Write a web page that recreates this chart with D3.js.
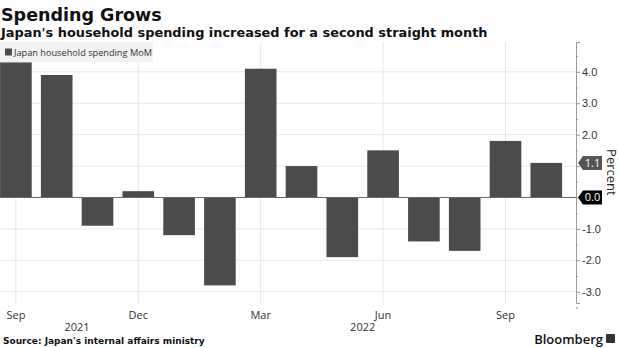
<!DOCTYPE html>
<html>
<head>
<meta charset="utf-8">
<script src="https://cdn.jsdelivr.net/npm/d3@7"></script>
<style>
  body { margin: 0; background: #fff; }
  svg { display: block; font-family: "Open Sans", sans-serif; }
  .grid line { stroke: #e8e8e8; stroke-width: 1; }
  .tick text { fill: #333; font-size: 11px; }
</style>
</head>
<body>
<svg></svg>
<script>
const months = ["2021-09", "2021-10", "2021-11", "2021-12", "2022-01", "2022-02", "2022-03",
  "2022-04", "2022-05", "2022-06", "2022-07", "2022-08", "2022-09", "2022-10"]
const spending = [4.3, 3.9, -0.9, 0.2, -1.2, -2.8, 4.1, 1.0, -1.9, 1.5, -1.4, -1.7, 1.8, 1.1]
const monthTicks = ["2021-09", "2021-12", "2022-03", "2022-06", "2022-09"]
const monthNames = { "09": "Sep", "12": "Dec", "03": "Mar", "06": "Jun" }
const years = [
  { year: "2021", first: "2021-09", last: "2021-12" },
  { year: "2022", first: "2022-01", last: "2022-10" }
]
const yTicks = [-3, -2, -1, 0, 1, 2, 3, 4]
const yMinor = [-3.5, -2.5, -1.5, -0.5, 0.5, 1.5, 2.5, 3.5, 4.5]
const lastValue = spending[spending.length - 1]

const width = 620, height = 348
const svg = d3.select("svg").attr("width", width).attr("height", height)

const x = d3.scaleBand()
  .domain(months)
  .range([-4.5, 566.7])
  .paddingInner(0.225)
  .paddingOuter(0.1125)

const y = d3.scaleLinear()
  .domain([-3.36, 4.95])
  .range([303, 42])

const axisX = 576
const cx = d => x(d) + x.bandwidth() / 2

// titles
svg.append("text")
  .attr("x", 1).attr("y", 21)
  .style("font-family", "DejaVu Sans").style("font-weight", "bold").style("font-size", "17.5px")
  .style("fill", "#111")
  .text("Spending Grows")

svg.append("text")
  .attr("x", 1).attr("y", 37)
  .style("font-family", "DejaVu Sans").style("font-weight", "bold").style("font-size", "12.9px")
  .style("fill", "#111")
  .text("Japan's household spending increased for a second straight month")

// gridlines
const grid = svg.append("g").attr("class", "grid")
grid.selectAll("line.h")
  .data(yTicks.filter(d => d !== 0))
  .enter().append("line")
  .attr("class", "h")
  .attr("x1", 0).attr("x2", axisX)
  .attr("y1", d => y(d)).attr("y2", d => y(d))
grid.selectAll("line.v")
  .data(monthTicks)
  .enter().append("line")
  .attr("class", "v")
  .attr("x1", d => cx(d)).attr("x2", d => cx(d))
  .attr("y1", 42).attr("y2", 303)

// legend
const legend = svg.append("g")
legend.append("rect")
  .attr("x", 0).attr("y", 42).attr("width", 153).attr("height", 20)
  .style("fill", "#f2f2f2")
legend.append("rect")
  .attr("x", 5).attr("y", 48.5).attr("width", 7).attr("height", 7)
  .style("fill", "#4b4b4b")
legend.append("text")
  .attr("x", 14).attr("y", 56)
  .style("font-size", "9.2px").style("fill", "#333")
  .text("Japan household spending MoM")

// bars
svg.append("g")
  .selectAll("rect")
  .data(spending)
  .enter().append("rect")
  .attr("x", (d, i) => x(months[i]))
  .attr("width", x.bandwidth())
  .attr("y", d => y(Math.max(0, d)))
  .attr("height", d => Math.abs(y(d) - y(0)))
  .style("fill", "#4b4b4b")

// zero line
svg.append("line")
  .attr("x1", 0).attr("x2", axisX)
  .attr("y1", y(0)).attr("y2", y(0))
  .style("stroke", "#666").style("stroke-width", 1)

// right axis
const yAxis = svg.append("g")
  .attr("transform", `translate(${axisX},0)`)
  .call(d3.axisRight(y).tickValues(yTicks).tickSize(4).tickPadding(2)
    .tickFormat(d => d === 0 ? "" : d3.format(".1f")(d).replace("−", "-")))
yAxis.select(".domain").style("stroke", "#999")
yAxis.selectAll(".tick line").style("stroke", "#999")
yAxis.selectAll(".tick text").filter(d => d === 1).text("")

svg.append("g")
  .attr("transform", `translate(${axisX},0)`)
  .call(d3.axisRight(y).tickValues(yMinor).tickSize(2).tickFormat(""))
  .call(g => g.select(".domain").remove())
  .selectAll(".tick line").style("stroke", "#999")

// value tags
function tag(value, fill) {
  const ty = y(value)
  const g = svg.append("g").attr("transform", `translate(${axisX + 2},${ty})`)
  g.append("path")
    .attr("d", "M0,0 L5,-7 L24,-7 L24,7 L5,7 Z")
    .style("fill", fill)
  g.append("text")
    .attr("x", 14.5).attr("y", 4)
    .attr("text-anchor", "middle")
    .style("font-size", "11px").style("fill", "#fff")
    .text(d3.format(".1f")(value))
}
tag(lastValue, "#555")
tag(0, "#000")

svg.append("text")
  .attr("transform", `translate(607,${y(0.8)}) rotate(90)`)
  .attr("text-anchor", "middle")
  .style("font-size", "13px").style("fill", "#222")
  .text("Percent")

// bottom axis labels
svg.append("g")
  .selectAll("text")
  .data(monthTicks)
  .enter().append("text")
  .attr("x", d => cx(d)).attr("y", 319)
  .attr("text-anchor", "middle")
  .style("font-size", "11px").style("fill", "#333")
  .text(d => monthNames[d.slice(5)])

svg.append("g")
  .selectAll("text")
  .data(years)
  .enter().append("text")
  .attr("x", d => (cx(d.first) + cx(d.last)) / 2).attr("y", 331)
  .attr("text-anchor", "middle")
  .style("font-size", "11px").style("fill", "#333")
  .text(d => d.year)

// footer
svg.append("text")
  .attr("x", 3).attr("y", 344)
  .style("font-family", "DejaVu Sans").style("font-weight", "bold").style("font-size", "9px")
  .style("fill", "#111")
  .text("Source: Japan's internal affairs ministry")

svg.append("text")
  .attr("x", 603).attr("y", 344)
  .attr("text-anchor", "end")
  .style("font-size", "13px").style("font-weight", "600").style("fill", "#111")
  .text("Bloomberg")
svg.append("rect")
  .attr("x", 606).attr("y", 334).attr("width", 9).attr("height", 9).attr("rx", 1)
  .style("fill", "#333")
</script>
</body>
</html>
